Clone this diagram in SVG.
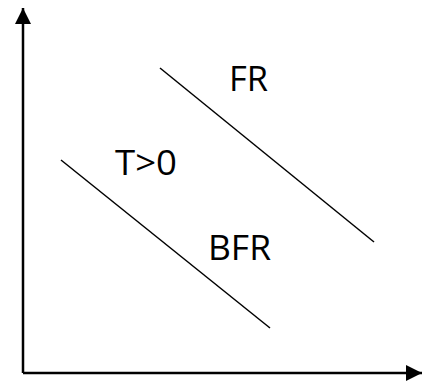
<svg xmlns="http://www.w3.org/2000/svg" width="433" height="383" viewBox="0 0 433 383">
<defs>
<marker id="ah" markerWidth="16" markerHeight="16" viewBox="0 0 16 16" refX="16" refY="8" orient="auto" markerUnits="userSpaceOnUse">
<path d="M0,0 L16,8 L0,16 Z" fill="#000"/>
</marker>
<style>
.ax{stroke:#000;stroke-width:2.5;fill:none}
.ln{stroke:#000;stroke-width:1.5;fill:none}
.t{font-family:"Open Sans","Liberation Sans",sans-serif;font-size:35px;fill:#000}
</style>
</defs>
<rect width="433" height="383" fill="#fff"/>
<g id="connectors">
<line class="ax" x1="23" y1="373" x2="23" y2="8" marker-end="url(#ah)"/>
<line class="ax" x1="23" y1="373" x2="422" y2="373" marker-end="url(#ah)"/>
<line class="ln" x1="160" y1="68" x2="374" y2="242"/>
<line class="ln" x1="61" y1="160" x2="270" y2="328"/>
</g>
<g id="label-FR"><text class="t" x="229" y="91" textLength="39" lengthAdjust="spacingAndGlyphs">FR</text></g>
<g id="label-T"><text class="t" x="115" y="175" textLength="62" lengthAdjust="spacingAndGlyphs">T&gt;0</text></g>
<g id="label-BFR"><text class="t" x="208" y="260" textLength="63" lengthAdjust="spacingAndGlyphs">BFR</text></g>
</svg>
